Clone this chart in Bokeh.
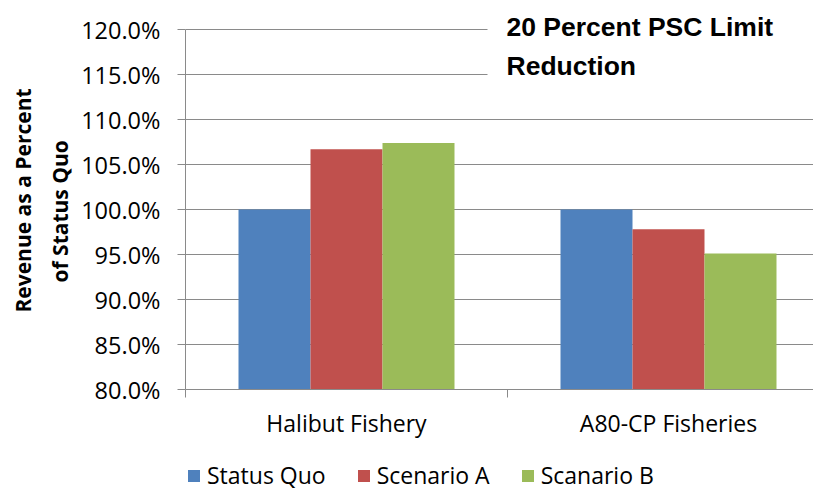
from bokeh.plotting import figure
from bokeh.layouts import column
from bokeh.models import (ColumnDataSource, Range1d, FixedTicker, PrintfTickFormatter,
                          Label, Legend, LegendItem, Title)
from bokeh.transform import dodge
from bokeh.embed import file_html
from bokeh.resources import INLINE

categories = ["Halibut Fishery", "A80-CP Fisheries"]
series_names = ["Status Quo", "Scenario A", "Scanario B"]
status_quo = [100.0, 100.0]
scenario_a = [106.7, 97.8]
scenario_b = [107.4, 95.1]
colors = ["#4F81BD", "#C0504D", "#9BBB59"]
y_ticks = [80, 85, 90, 95, 100, 105, 110, 115, 120]
title_text = "20 Percent PSC Limit\nReduction"
y_label_lines = ["Revenue as a Percent", "of Status Quo"]

FONT = "Open Sans"
GRAY = "#8a8a8a"

xpos = [i + 0.5 for i in range(len(categories))]
src = ColumnDataSource(dict(x=xpos, sq=status_quo, a=scenario_a, b=scenario_b))

# frame: x 185..813, y 0..389 (value 120 at y=29, 80 at y=389 -> 9 px per %)
p = figure(width=813, height=457, output_backend="svg", toolbar_location=None,
           x_range=Range1d(0, 628 / 322), y_range=Range1d(80, 120 + 29 / 9),
           min_border_left=185, min_border_right=0, min_border_top=0, min_border_bottom=68)
p.outline_line_color = None
p.background_fill_color = "white"
p.border_fill_color = "white"

bw = 0.2236
renderers = []
for field, off, col in zip(["sq", "a", "b"], [-bw, 0, bw], colors):
    r = p.vbar(x=dodge("x", off, range=p.x_range), top=field, bottom=0, width=bw,
               source=src, fill_color=col, line_color=None)
    renderers.append(r)

# y axis
p.yaxis.ticker = FixedTicker(ticks=y_ticks)
p.yaxis.bounds = (80, 120)
p.yaxis.formatter = PrintfTickFormatter(format="%.1f%%")
p.yaxis.axis_line_color = GRAY
p.yaxis.major_tick_line_color = GRAY
p.yaxis.major_tick_out = 8
p.yaxis.major_tick_in = 0
p.yaxis.minor_tick_line_color = None
p.yaxis.major_label_standoff = 17
p.yaxis.major_label_text_font = FONT
p.yaxis.major_label_text_font_size = "23.5px"
p.yaxis.major_label_text_color = "#000000"

# x axis
p.xaxis.ticker = FixedTicker(ticks=xpos, minor_ticks=[0, 1, 2])
p.xaxis.major_label_overrides = {x: c for x, c in zip(xpos, categories)}
p.xaxis.axis_line_color = GRAY
p.xaxis.major_tick_line_color = None
p.xaxis.major_tick_out = 0
p.xaxis.major_tick_in = 0
p.xaxis.minor_tick_line_color = GRAY
p.xaxis.minor_tick_out = 8
p.xaxis.minor_tick_in = 0
p.xaxis.major_label_standoff = 9
p.xaxis.major_label_text_font = FONT
p.xaxis.major_label_text_font_size = "23px"
p.xaxis.major_label_text_color = "#000000"

p.xgrid.grid_line_color = None
p.ygrid.ticker = FixedTicker(ticks=y_ticks)
p.ygrid.grid_line_color = GRAY
p.ygrid.grid_line_width = 1

# y axis title (two lines); added inner line first
for txt, so, off in zip(reversed(y_label_lines), [9, 5], [107, 77]):
    t = Title(text=txt, align="left", text_font=FONT, text_font_style="bold",
              text_font_size="21px", text_color="#000000", standoff=so, offset=off)
    p.add_layout(t, "left")

# chart title inside plot
lab = Label(x=302, y=397, x_units="screen", y_units="screen", text=title_text,
            text_font="Liberation Sans", text_font_style="bold", text_font_size="26.5px",
            text_color="#000000",
            text_baseline="top", text_align="left", text_line_height=1.3,
            background_fill_color="white",
            padding=dict(left=19, right=45, top=19, bottom=8))
p.add_layout(lab)

# legend strip
p2 = figure(width=813, height=34, output_backend="svg", toolbar_location=None,
            x_range=Range1d(10, 11), y_range=Range1d(0, 1),
            min_border_left=0, min_border_right=0, min_border_top=0, min_border_bottom=0)
p2.xaxis.visible = False
p2.yaxis.visible = False
p2.xgrid.visible = False
p2.ygrid.visible = False
p2.outline_line_color = None
p2.background_fill_color = "white"
p2.border_fill_color = "white"
leg_renderers = [p2.quad(left="x", right="x", bottom=0, top=f, source=src,
                         fill_color=c, line_color=None)
                 for f, c in zip(["sq", "a", "b"], colors)]
legend = Legend(items=[LegendItem(label=n, renderers=[r]) for n, r in zip(series_names, leg_renderers)],
                orientation="horizontal", location=(1, 0),
                glyph_width=15, glyph_height=15, label_standoff=6, spacing=30,
                label_text_font=FONT, label_text_font_size="23px", label_text_color="#000000",
                border_line_color=None, background_fill_alpha=0,
                padding=0, margin=0)
p2.add_layout(legend)

open("out.html", "w").write(file_html(column(p, p2, spacing=0), INLINE))
